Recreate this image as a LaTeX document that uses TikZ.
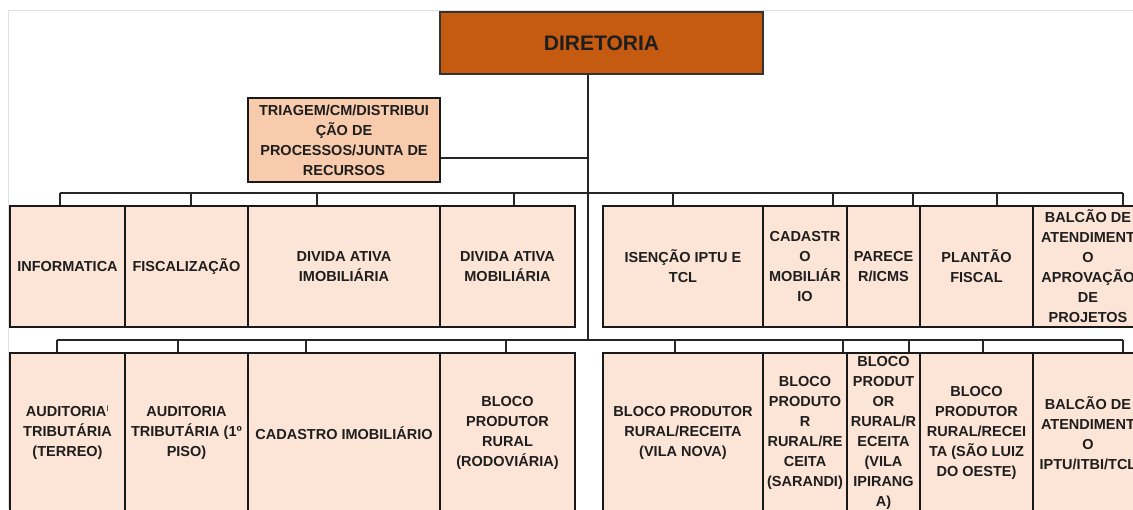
\documentclass[tikz,border=0pt]{standalone}
\usepackage{fontspec}
\setmainfont{Liberation Sans}
\definecolor{dirfill}{HTML}{C55A11}
\definecolor{trifill}{HTML}{F8CBAD}
\definecolor{boxfill}{HTML}{FCE4D6}
\definecolor{txt}{HTML}{1E1E1E}
\newcommand\orgbox[7][]{%
  \node[box,#1,minimum width={#4-#3},minimum height={#6-#5}] (#2) at ({(#3+#4)/2},{(#5+#6)/2}) {#7};}
\begin{document}
\begin{tikzpicture}[x=1pt,y=-1pt,
  box/.style={draw=black!90, line width=1.6pt, fill=boxfill, inner sep=0pt, align=center, text=txt,
    font=\bfseries\fontsize{14.5}{20}\selectfont},
  dirbox/.style={box, fill=dirfill, draw=black!80, font=\bfseries\fontsize{21}{25}\selectfont},
  tribox/.style={box, fill=trifill},
  conn/.style={line width=1.4pt, draw=black!85}]
\useasboundingbox (0,0) rectangle (1133,509);
\fill[white] (0,0) rectangle (1133,509);
\begin{scope}
\clip (0,0) rectangle (1133,509);
\draw[black!12, line width=1pt] (8,509) -- (8,10) -- (1133,10);

% top
\orgbox[dirbox]{dir}{440}{763}{12}{74}{DIRETORIA}
\orgbox[tribox]{tri}{248}{440}{98}{182}{TRIAGEM/CM/DISTRIBUI\\ÇÃO DE\\PROCESSOS/JUNTA DE\\RECURSOS}

% row 1
\orgbox{inf}{10}{125}{206}{327}{INFORMATICA}
\orgbox{fis}{125}{248}{206}{327}{FISCALIZAÇÃO}
\orgbox{dai}{248}{440}{206}{327}{DIVIDA ATIVA\\IMOBILIÁRIA}
\orgbox{dam}{440}{575}{206}{327}{DIVIDA ATIVA\\MOBILIÁRIA}
\orgbox{ise}{603}{763}{206}{327}{ISENÇÃO IPTU E\\TCL}
\orgbox{cad}{763}{847}{206}{327}{CADASTR\\O\\MOBILIÁR\\IO}
\orgbox{par}{847}{920}{206}{327}{PARECE\\R/ICMS}
\orgbox{pla}{920}{1033}{206}{327}{PLANTÃO\\FISCAL}
\orgbox{bal}{1033}{1143}{206}{327}{BALCÃO DE\\ATENDIMENT\\O\\APROVAÇÃO\\DE\\PROJETOS}

% row 2
\orgbox{aut}{10}{125}{353}{513}{AUDITORIA\textsuperscript{\fontsize{8}{8}\selectfont\mdseries I}\\TRIBUTÁRIA\\(TERREO)}
\orgbox{aup}{125}{248}{353}{513}{AUDITORIA\\TRIBUTÁRIA (1º\\PISO)}
\orgbox{cim}{248}{440}{353}{513}{CADASTRO IMOBILIÁRIO}
\orgbox{bpr}{440}{575}{353}{513}{BLOCO\\PRODUTOR\\RURAL\\(RODOVIÁRIA)}
\orgbox{bvn}{603}{763}{353}{513}{BLOCO PRODUTOR\\RURAL/RECEITA\\(VILA NOVA)}
\orgbox{bsa}{763}{847}{353}{513}{BLOCO\\PRODUTO\\R\\RURAL/RE\\CEITA\\(SARANDI)}
\orgbox{bvi}{847}{920}{353}{513}{BLOCO\\PRODUT\\OR\\RURAL/R\\ECEITA\\(VILA\\IPIRANG\\A)}
\orgbox{bsl}{920}{1033}{353}{513}{BLOCO\\PRODUTOR\\RURAL/RECEI\\TA (SÃO LUIZ\\DO OESTE)}
\orgbox{bai}{1033}{1143}{353}{513}{BALCÃO DE\\ATENDIMENT\\O\\IPTU/ITBI/TCL}

% trunk
\coordinate (j1) at (588,158);
\coordinate (j3) at (588,340);
\draw[conn] (dir.south -| j1) -- (j3);
\draw[conn] (tri.east |- j1) -- (j1);

% buses
\coordinate (b1l) at (60,193);
\coordinate (b1r) at (1123,193);
\draw[conn] (b1l) -- (b1r);
\coordinate (b2l) at (57,340);
\coordinate (b2r) at (1123,340);
\draw[conn] (b2l) -- (b2r);

\foreach \x/\n in {60/inf,191/fis,317/dai,514/dam,673/ise,833/cad,913/par,997/pla,1123/bal}{
  \coordinate (t) at (\x,193);
  \draw[conn] (t) -- (t |- \n.north);
}
\foreach \x/\n in {57/aut,178/aup,306/cim,506/bpr,675/bvn,843/bsa,909/bvi,983/bsl,1123/bai}{
  \coordinate (t) at (\x,340);
  \draw[conn] (t) -- (t |- \n.north);
}
\end{scope}
\end{tikzpicture}
\end{document}
